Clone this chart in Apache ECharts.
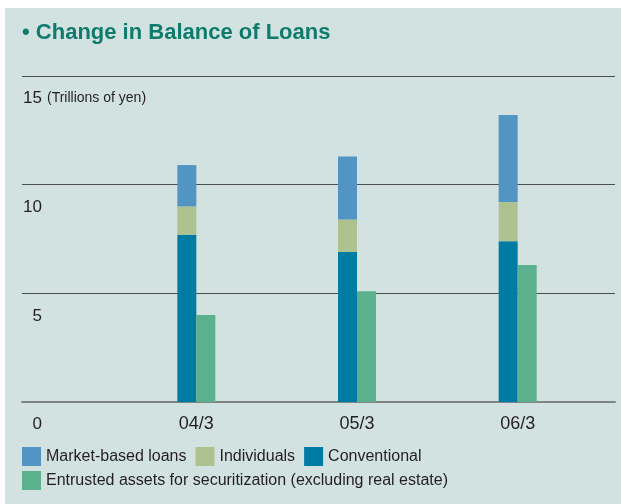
<!DOCTYPE html>
<html>
<head>
<meta charset="utf-8">
<script src="https://cdn.jsdelivr.net/npm/echarts@6/dist/echarts.min.js"></script>
<style>
html,body{margin:0;padding:0;background:#ffffff;}
#chart{width:621px;height:504px;}
</style>
</head>
<body>
<div id="chart"></div>
<script>
const categories = ['04/3', '05/3', '06/3'];
const conventional = [7.7, 6.9, 7.4];
const individuals = [1.3, 1.5, 1.8];
const marketBased = [1.9, 2.9, 4.0];
const entrusted = [4.0, 5.1, 6.3];
const yTicks = { min: 0, max: 15, interval: 5 };
const titleText = '\u2022 Change in Balance of Loans';
const unitText = '(Trillions of yen)';
const names = ['Market-based loans', 'Individuals', 'Conventional', 'Entrusted assets for securitization (excluding real estate)'];
const colors = { market: '#5294c4', indiv: '#aec28f', conv: '#007ba4', entr: '#5bb08e' };

const FONT = '"Liberation Sans", Arial, sans-serif';
const chart = echarts.init(document.getElementById('chart'), null, { renderer: 'canvas' });

const option = {
  backgroundColor: '#ffffff',
  animation: false,
  graphic: [
    { type: 'rect', z: -10, silent: true, shape: { x: 5, y: 8, width: 616, height: 496 }, style: { fill: '#d1e2e1' } },
    { type: 'text', left: 22, top: 22, style: { text: titleText, fill: '#0f7b6c', font: 'bold 22px ' + FONT } },
    { type: 'text', x: 47, y: 98, style: { text: unitText, fill: '#231f20', font: '14px ' + FONT, verticalAlign: 'middle' } }
  ],
  legend: [
    {
      left: 22, top: 447, padding: 0, orient: 'horizontal', icon: 'rect', itemWidth: 19, itemHeight: 19, itemGap: 9,
      data: [names[0], names[1], names[2]],
      textStyle: { fontSize: 16, color: '#231f20', fontFamily: FONT },
      selectedMode: false
    },
    {
      left: 22, top: 471, padding: 0, orient: 'horizontal', icon: 'rect', itemWidth: 19, itemHeight: 19,
      data: [names[3]],
      textStyle: { fontSize: 16, color: '#231f20', fontFamily: FONT },
      selectedMode: false
    }
  ],
  grid: [
    { left: 22, right: 6, top: 76, bottom: 102, containLabel: false },
    { left: 116, right: 23, top: 76, bottom: 102, containLabel: false }
  ],
  xAxis: [
    { type: 'value', gridIndex: 0, min: 0, max: 1, axisLine: { show: true, onZero: false, lineStyle: { color: '#7f8584', width: 2 } }, axisTick: { show: false }, axisLabel: { show: false }, splitLine: { show: false } },
    { type: 'category', gridIndex: 1, data: categories, axisLine: { show: false }, axisTick: { show: false },
      axisLabel: { margin: 13, fontSize: 18, color: '#231f20', fontFamily: FONT } }
  ],
  yAxis: [
    { type: 'value', gridIndex: 0, min: yTicks.min, max: yTicks.max, interval: yTicks.interval,
      axisLine: { show: false }, axisTick: { show: false },
      axisLabel: { inside: true, align: 'right', margin: 20, verticalAlign: 'top', padding: [14, 0, 0, 0], fontSize: 17, color: '#231f20', fontFamily: FONT, showMinLabel: true, showMaxLabel: true },
      splitLine: { show: true, lineStyle: { color: '#4a4f4e', width: 1.2 } } },
    { type: 'value', gridIndex: 1, min: yTicks.min, max: yTicks.max, interval: yTicks.interval, show: false, splitLine: { show: false } }
  ],
  series: [
    { name: names[2], type: 'bar', xAxisIndex: 1, yAxisIndex: 1, stack: 'loans', data: conventional, barWidth: 19, barGap: '0%', itemStyle: { color: colors.conv } },
    { name: names[1], type: 'bar', xAxisIndex: 1, yAxisIndex: 1, stack: 'loans', data: individuals, barWidth: 19, barGap: '0%', itemStyle: { color: colors.indiv } },
    { name: names[0], type: 'bar', xAxisIndex: 1, yAxisIndex: 1, stack: 'loans', data: marketBased, barWidth: 19, barGap: '0%', itemStyle: { color: colors.market } },
    { name: names[3], type: 'bar', xAxisIndex: 1, yAxisIndex: 1, data: entrusted, barWidth: 19, barGap: '0%', itemStyle: { color: colors.entr } }
  ]
};
chart.setOption(option);
</script>
</body>
</html>
